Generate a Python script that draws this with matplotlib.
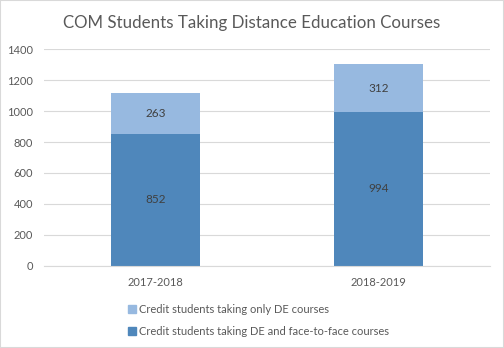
import matplotlib
matplotlib.use('Agg')
import matplotlib.pyplot as plt
from matplotlib.patches import Rectangle

years = ['2017-2018', '2018-2019']
de_and_f2f = [852, 994]
de_only = [263, 312]
labels = ['Credit students taking only DE courses',
          'Credit students taking DE and face-to-face courses']

dark = '#4F87BB'
light = '#97B9E0'
grey = '#595959'

plt.rcParams['font.family'] = ['Lato', 'DejaVu Sans']

fig = plt.figure(figsize=(5.04, 3.48), dpi=100)
ax = fig.add_axes([0.0873, 0.237, 0.885, 0.621])

x = range(len(years))
b1 = ax.bar(x, de_and_f2f, width=0.4, color=dark, zorder=2)
b2 = ax.bar(x, de_only, width=0.4, bottom=de_and_f2f, color=light, zorder=2)
ax.bar_label(b1, label_type='center', fontsize=8.5, color='#404040')
ax.bar_label(b2, label_type='center', fontsize=8.5, color='#404040')

ax.set_xlim(-0.5, 1.5)
ax.set_ylim(0, 1400)
ax.set_yticks(range(0, 1401, 200))
ax.set_xticks(list(x))
ax.set_xticklabels(years)
ax.yaxis.grid(True, color='#d9d9d9', linewidth=0.8, zorder=0)
for s in ['top', 'right', 'left']:
    ax.spines[s].set_visible(False)
ax.spines['bottom'].set_color('#d9d9d9')
ax.tick_params(length=0, labelsize=8, colors=grey)
ax.tick_params(axis='y', pad=8)
ax.tick_params(axis='x', pad=8)

fig.text(0.5, 0.933, 'COM Students Taking Distance Education Courses',
         ha='center', va='center', fontsize=12.2, color=grey)

handles = [Rectangle((0, 0), 1, 1, color=light), Rectangle((0, 0), 1, 1, color=dark)]
fig.legend(handles, labels, loc='upper left', bbox_to_anchor=(0.245, 0.14),
           ncol=1, frameon=False, fontsize=8, labelcolor=grey,
           handlelength=0.7, handleheight=0.7, handletextpad=0.3,
           labelspacing=1.0, borderaxespad=0)

fig.patches.append(Rectangle((0, 0), 1, 1, transform=fig.transFigure,
                             fill=False, edgecolor='#d9d9d9', linewidth=1.5))

fig.savefig('out.png', dpi=100)
